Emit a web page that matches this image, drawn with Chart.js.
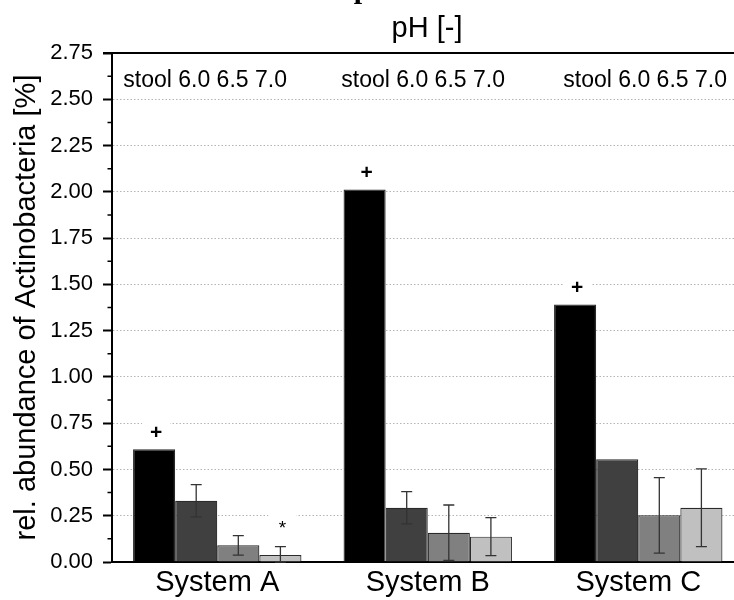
<!DOCTYPE html>
<html>
<head>
<meta charset="utf-8">
<script src="https://cdn.jsdelivr.net/npm/chart.js@4.4.1/dist/chart.umd.min.js"></script>
<style>
html,body{margin:0;padding:0;background:#fff;overflow:hidden;width:734px;height:600px;}
canvas{display:block;}
</style>
</head>
<body>
<canvas id="c" width="750" height="600"></canvas>
<script>
// ---- data ----
const categories = ['System A', 'System B', 'System C'];
const seriesNames = ['stool', '6.0', '6.5', '7.0'];
const stool = [0.609, 2.012, 1.391];
const ph60  = [0.331, 0.293, 0.555];
const ph65  = [0.090, 0.158, 0.252];
const ph70  = [0.038, 0.137, 0.293];
const errStool = [0, 0, 0];
const err60 = [0.0875, 0.0875, 0];
const err65 = [0.053, 0.150, 0.204];
const err70 = [0.045, 0.103, 0.210];
const markStool = ['+', '+', '+'];
const mark60 = ['', '', ''];
const mark65 = ['', '', ''];
const mark70 = ['*', '', ''];
const yTicks = [0, 0.25, 0.5, 0.75, 1.0, 1.25, 1.5, 1.75, 2.0, 2.25, 2.5, 2.75];
const groupHeader = 'stool 6.0 6.5 7.0';
const headerShift = [-94, -86.5, -75];   // px offsets of header text from category centre
const axisTitleX = 'pH [-]';
const axisTitleY = 'rel. abundance of Actinobacteria [%]';

const colors = ['#000000', '#404040', '#808080', '#c0c0c0'];
const values = [stool, ph60, ph65, ph70];
const errors = [errStool, err60, err65, err70];
const marks = [markStool, mark60, mark65, mark70];
const FONT = "'Liberation Sans', Arial, Helvetica, sans-serif";

const decor = {
  id: 'decor',
  beforeDatasetsDraw(chart) {
    const ctx = chart.ctx, y = chart.scales.y;
    ctx.save();
    ctx.fillStyle = '#fff';
    values.forEach((vals, di) => {
      const meta = chart.getDatasetMeta(di);
      vals.forEach((v, i) => {
        if (!marks[di][i]) return;
        const bar = meta.data[i];
        const top = y.getPixelForValue(v + errors[di][i]);
        const off = marks[di][i] === '+' ? 18 : 24;
        ctx.fillRect(bar.x + 2 - 14, top - off - 10, 28, 20);
      });
    });
    ctx.restore();
  },
  afterDatasetsDraw(chart) {
    const ctx = chart.ctx, y = chart.scales.y, x = chart.scales.x;
    const ca = chart.chartArea;
    ctx.save();
    // error bars
    ctx.strokeStyle = '#333';
    ctx.lineWidth = 1.3;
    values.forEach((vals, di) => {
      const meta = chart.getDatasetMeta(di);
      vals.forEach((v, i) => {
        const e = errors[di][i];
        if (!e) return;
        const bx = meta.data[i].x;
        const yt = y.getPixelForValue(v + e);
        const yb = y.getPixelForValue(Math.max(0, v - e));
        ctx.beginPath();
        ctx.moveTo(bx, yt); ctx.lineTo(bx, yb);
        ctx.moveTo(bx - 5.5, yt); ctx.lineTo(bx + 5.5, yt);
        ctx.moveTo(bx - 5.5, yb); ctx.lineTo(bx + 5.5, yb);
        ctx.stroke();
      });
    });
    // significance marks
    ctx.fillStyle = '#000';
    ctx.textAlign = 'center';
    values.forEach((vals, di) => {
      const meta = chart.getDatasetMeta(di);
      vals.forEach((v, i) => {
        const m = marks[di][i];
        if (!m) return;
        const bx = meta.data[i].x + 2;
        const top = y.getPixelForValue(v + errors[di][i]);
        ctx.textBaseline = 'alphabetic';
        if (m === '+') {
          ctx.font = 'bold 21px ' + FONT;
          ctx.fillText(m, bx, top - 18 + 7.5);
        } else {
          ctx.font = '19px ' + FONT;
          ctx.fillText(m, bx, top - 24 + 11);
        }
      });
    });
    // group headers
    ctx.font = '23px ' + FONT;
    ctx.textBaseline = 'alphabetic';
    ctx.textAlign = 'left';
    categories.forEach((c, i) => {
      ctx.fillText(groupHeader, x.getPixelForValue(i) + headerShift[i], 87);
    });
    // top axis line and title
    ctx.strokeStyle = '#000';
    ctx.lineWidth = 2;
    ctx.beginPath();
    ctx.moveTo(ca.left - 9, ca.top);
    ctx.lineTo(chart.width, ca.top);
    ctx.stroke();
    ctx.font = '29px ' + FONT;
    ctx.textAlign = 'center';
    ctx.textBaseline = 'alphabetic';
    ctx.fillText(axisTitleX, 427, 37);
    // cut-off caption glyph at the very top
    ctx.font = "bold 30px 'Liberation Serif', 'Times New Roman', serif";
    ctx.fillText('p', 362, -2);
    // minor ticks
    ctx.lineWidth = 1.5;
    ctx.beginPath();
    for (let k = 0; k < yTicks.length - 1; k++) {
      const mv = (yTicks[k] + yTicks[k + 1]) / 2;
      const py = y.getPixelForValue(mv);
      ctx.moveTo(ca.left - 4.5, py);
      ctx.lineTo(ca.left, py);
    }
    ctx.stroke();
    ctx.restore();
  }
};

new Chart(document.getElementById('c'), {
  type: 'bar',
  data: {
    labels: categories,
    datasets: seriesNames.map((n, i) => ({
      label: n,
      data: values[i],
      backgroundColor: colors[i],
      borderColor: '#2a2a2a',
      borderWidth: 1.2,
      barPercentage: 1.0,
      categoryPercentage: 0.8
    }))
  },
  options: {
    responsive: false,
    animation: false,
    devicePixelRatio: 1,
    layout: { padding: { left: 0, right: 6.5, top: 53, bottom: 0 } },
    plugins: { legend: { display: false }, tooltip: { enabled: false } },
    scales: {
      x: {
        type: 'category',
        offset: true,
        grid: { display: false, drawTicks: false },
        border: { display: true, color: '#000', width: 2 },
        ticks: { color: '#000', font: { family: FONT, size: 29 }, padding: 4, maxRotation: 0 },
        afterFit(s) { s.height = 38; }
      },
      y: {
        min: 0, max: 2.75,
        afterBuildTicks(s) { s.ticks = yTicks.map(v => ({ value: v })); },
        ticks: {
          color: '#000', font: { family: FONT, size: 22 }, padding: 10,
          callback: v => Number(v).toFixed(2)
        },
        grid: {
          color: c => (c.tick && (c.tick.value === 0 || c.tick.value === 2.75)) ? 'rgba(0,0,0,0)' : '#b4b4b4',
          lineWidth: 1,
          tickColor: '#000', tickLength: 9, tickWidth: 2, tickBorderDash: []
        },
        border: { display: true, color: '#000', width: 2, dash: [1.5, 2] },
        title: {
          display: true, text: axisTitleY, color: '#000',
          font: { family: FONT, size: 29, lineHeight: 1.2 },
          padding: { top: 10, bottom: 0 }
        },
        afterFit(s) { s.width = 112; }
      }
    }
  },
  plugins: [decor]
});
</script>
</body>
</html>
